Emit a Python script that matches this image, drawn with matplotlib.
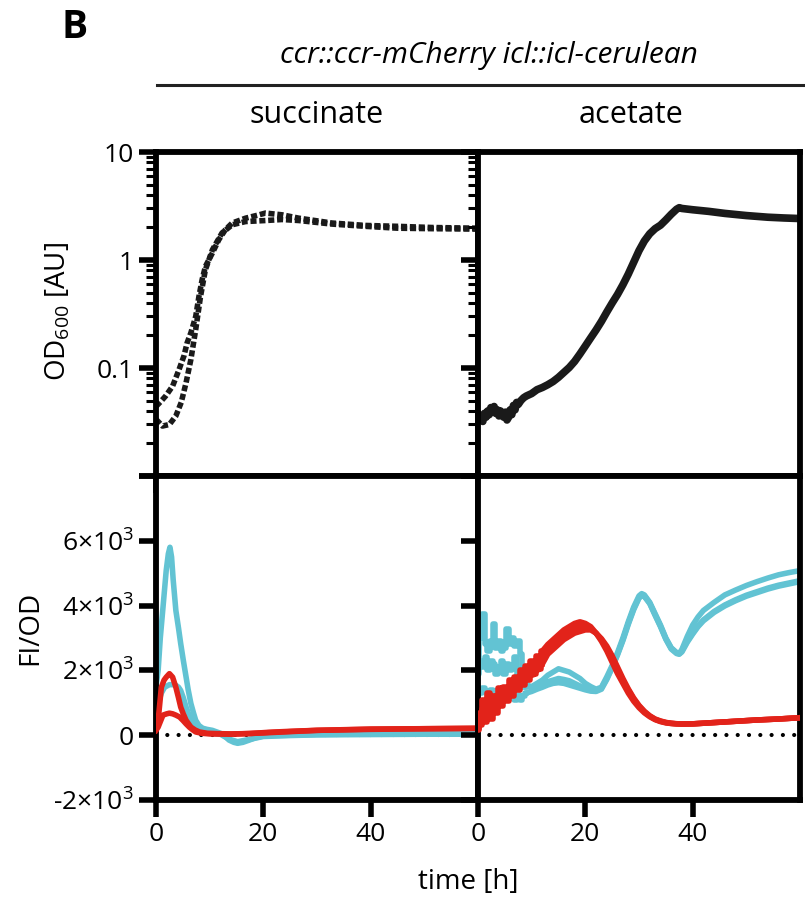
import numpy as np
import matplotlib
matplotlib.use("Agg")
import matplotlib.pyplot as plt
from matplotlib.lines import Line2D
from matplotlib.ticker import LogLocator, NullFormatter

plt.rcParams['font.family'] = ['Open Sans', 'DejaVu Sans']
plt.rcParams['mathtext.default'] = 'regular'

CYAN = "#62c3d3"
RED = "#e2231a"

# ---- OD600, succinate (two replicates, dotted)
suc_od_t1 = [0, 0.9, 1.8, 3.1, 4.3, 5.2, 5.8, 6.5, 7.4, 8.0, 8.6, 9.2, 10.5, 11.7, 12.9, 14.2, 16.7, 19.2, 20.4,
             23.5, 26.6, 32.8, 39, 45, 51.4, 60]
suc_od_v1 = [0.044, 0.049, 0.055, 0.068, 0.097, 0.129, 0.171, 0.212, 0.30, 0.46, 0.66, 0.87, 1.16, 1.54, 1.90,
             2.20, 2.44, 2.62, 2.72, 2.62, 2.44, 2.20, 2.09, 2.05, 2.0, 1.97]
suc_od_t2 = [0, 1.2, 2.5, 3.7, 4.7, 5.6, 6.5, 7.4, 8.3, 9.2, 10.5, 12.3, 14.2, 16.7, 20.4, 23.5, 26.6, 32.8, 39,
             45, 51.4, 60]
suc_od_v2 = [0.0335, 0.029, 0.030, 0.036, 0.048, 0.073, 0.12, 0.227, 0.46, 0.81, 1.24, 1.78, 2.12, 2.27, 2.32,
             2.37, 2.32, 2.15, 2.05, 1.97, 1.95, 1.93]

# ---- OD600, acetate
ace_od_t = [0, 0.3, 0.6, 0.9, 1.2, 1.5, 1.8, 2.1, 2.4, 2.7, 3.0, 3.3, 3.6, 3.9, 4.2, 4.5, 4.8, 5.1, 5.4, 5.7,
            6.0, 6.3, 6.6, 6.9, 7.2, 7.5, 8, 8.5, 9, 10, 11, 12, 13, 14, 15, 16, 17, 18, 19, 20, 21, 22, 23,
            24, 25, 26, 27, 28, 29, 30, 31, 32, 33, 34, 35, 36, 37, 37.5, 38, 40, 43, 46, 50, 54, 57, 60]
ace_od_v = [0.037, 0.033, 0.036, 0.032, 0.038, 0.035, 0.040, 0.037, 0.043, 0.039, 0.044, 0.038, 0.041, 0.036,
            0.040, 0.037, 0.035, 0.039, 0.033, 0.035, 0.041, 0.037, 0.045, 0.041, 0.048, 0.046, 0.050, 0.053,
            0.055, 0.058, 0.063, 0.066, 0.070, 0.075, 0.082, 0.091, 0.101, 0.115, 0.135, 0.160, 0.190, 0.225,
            0.27, 0.33, 0.40, 0.48, 0.59, 0.74, 0.95, 1.22, 1.50, 1.75, 1.95, 2.1, 2.35, 2.65, 2.95, 3.05,
            3.0, 2.92, 2.82, 2.7, 2.58, 2.49, 2.45, 2.42]

# ---- FI/OD, succinate
suc_cy1_t = [0, 0.4, 0.8, 1.3, 1.9, 2.3, 2.6, 2.9, 3.2, 3.7, 4.2, 4.6, 5.1, 5.6, 6.0, 6.5, 7.0, 7.4, 8.0, 8.7,
             9.5, 10.5, 12, 13, 13.6, 14.5, 15.2, 16.2, 17.4, 18.5, 19.9, 22, 25, 30, 35, 40, 45, 50, 55, 60]
suc_cy1_v = [1500, 2000, 3000, 3940, 5080, 5600, 5800, 5500, 4800, 3850, 3300, 2830, 2300, 1800, 1400, 980, 680,
             460, 300, 215, 180, 150, 60, -50, -150, -220, -250, -220, -150, -80, -30, -10, 0, 20, 30, 30, 35,
             40, 40, 40]
suc_cy2_t = [0, 0.4, 1.0, 1.6, 2.5, 3.1, 3.7, 4.2, 4.6, 5.1, 5.6, 6.2, 6.8, 7.4, 8.1, 9, 10, 12, 13.6, 15.2, 17.4,
             20, 25, 30, 40, 50, 60]
suc_cy2_v = [800, 980, 1300, 1480, 1560, 1560, 1540, 1480, 1380, 1150, 870, 600, 370, 250, 150, 100, 80, 30,
             -120, -200, -130, -40, -10, 10, 20, 30, 30]
suc_rd1_t = [0, 0.4, 1.0, 1.5, 1.9, 2.5, 3.1, 3.7, 4.2, 4.6, 5.1, 5.6, 6.5, 7.3, 8.1, 9.5, 11.2, 14, 17.4, 21,
             25, 30, 35, 40, 50, 60]
suc_rd1_v = [200, 460, 1480, 1700, 1790, 1900, 1790, 1480, 1150, 870, 650, 460, 250, 160, 100, 60, 50, 40, 50,
             90, 120, 150, 170, 190, 200, 215]
suc_rd2_t = [0, 0.4, 1.3, 2.0, 2.5, 3.1, 3.7, 4.4, 5.0, 5.6, 6.2, 6.8, 7.4, 8.5, 10, 14, 20, 25, 30, 40, 50, 60]
suc_rd2_v = [150, 250, 620, 660, 680, 660, 620, 560, 460, 350, 250, 170, 100, 60, 40, 30, 70, 110, 150, 180,
             200, 210]

# ---- FI/OD, acetate (noisy start sampled every 0.5 h, then smooth)
ace_early_t = [0, 0.5, 1, 1.5, 2, 2.5, 3, 3.5, 4, 4.5, 5, 5.5, 6, 6.5, 7, 7.5, 8, 8.5, 9, 9.5, 10, 10.5, 11,
               11.5, 12]
ace_late_t = [13, 14, 15, 16, 17, 18, 19, 20, 21, 22, 23, 24, 25, 26, 27, 28, 29, 30, 31, 32, 33, 34, 35, 36,
              37, 38, 40, 42, 45, 48, 52, 56, 60]
ace_rd1_v = [250, 700, 1100, 900, 1300, 1000, 1200, 1100, 1450, 1250, 1500, 1400, 1700, 1550, 1800, 1750,
             2000, 1900, 2150, 2100, 2300, 2250, 2450, 2450, 2600,
             2800, 2950, 3100, 3250, 3350, 3450, 3500, 3450, 3350, 3150, 2900, 2600, 2250, 1900, 1600, 1300,
             1050, 850, 690, 570, 480, 420, 380, 360, 350, 345, 350, 370, 400, 430, 470, 500, 540]
ace_rd2_v = [200, 450, 800, 1000, 700, 950, 900, 1200, 1000, 1300, 1150, 1400, 1350, 1550, 1500, 1700, 1650,
             1850, 1800, 2000, 1950, 2150, 2150, 2300, 2350,
             2650, 2800, 2950, 3100, 3200, 3300, 3350, 3350, 3300, 3150, 2950, 2700, 2400, 2050, 1700, 1400,
             1120, 900, 720, 590, 490, 430, 390, 365, 350, 345, 350, 370, 400, 430, 470, 500, 540]
ace_rd3_v = [150, 300, 600, 400, 800, 500, 900, 700, 1000, 900, 1150, 1050, 1250, 1200, 1400, 1400, 1550, 1550,
             1700, 1700, 1850, 1900, 2000, 2050, 2200,
             2500, 2650, 2800, 2950, 3050, 3150, 3200, 3250, 3250, 3150, 2980, 2750, 2450, 2100, 1750, 1430,
             1150, 920, 740, 600, 500, 440, 395, 370, 355, 345, 350, 370, 400, 430, 470, 500, 540]

cy_early_t = [0, 0.5, 1, 1.5, 2, 2.5, 3, 3.5, 4, 4.5, 5, 5.5, 6, 6.5, 7, 7.5, 8, 8.5, 9]
cy_late_t = [10, 11, 12, 13, 14, 15, 16, 17, 18, 19, 20, 21, 22, 23, 24, 25, 26, 27, 28, 29, 30, 30.5, 31, 32,
             33, 34, 35, 36, 37, 37.5, 38, 39, 40, 41, 42, 44, 46, 48, 50, 52, 54, 56, 58, 60]
ace_cy1_v = [2300, 3000, 3750, 2800, 2600, 2900, 3440, 2700, 2900, 2600, 2700, 3280, 2800, 3000, 2750, 2900,
             2500, 2000, 1500,
             1500, 1600, 1700, 1850, 1950, 2050, 2000, 1950, 1850, 1750, 1600, 1500, 1420, 1480, 1800, 2150,
             2550, 3000, 3500, 3950, 4300, 4370, 4330, 4100, 3750, 3400, 3000, 2700, 2550, 2520, 2650, 3050,
             3400, 3650, 3850, 4100, 4330, 4480, 4620, 4740, 4850, 4950, 5020, 5080]
ace_cy2_v = [1900, 2300, 2100, 2400, 2000, 2300, 2200, 1900, 2100, 2300, 1900, 2200, 2000, 2100, 2400, 1800,
             1500, 1500, 1600,
             1450, 1500, 1550, 1650, 1700, 1750, 1720, 1680, 1600, 1520, 1450, 1400, 1380, 1450, 1750, 2100,
             2500, 2950, 3450, 3900, 4250, 4320, 4300, 4080, 3720, 3370, 2980, 2680, 2540, 2510, 2600, 2900,
             3150, 3380, 3560, 3820, 4020, 4180, 4320, 4430, 4540, 4630, 4700, 4770]
ace_cy3_v = [1400, 1300, 1450, 1350, 1200, 1400, 1300, 1350, 1250, 1300, 1200, 1300, 1150, 1200, 1100, 1250,
             1100, 1200, 1300,
             1350, 1420, 1480, 1550, 1600, 1620, 1600, 1550, 1500, 1450, 1400, 1360, 1350, 1420, 1720, 2080,
             2480, 2920, 3420, 3870, 4230, 4300, 4280, 4060, 3700, 3350, 2960, 2660, 2520, 2500, 2570, 2870,
             3120, 3350, 3530, 3790, 3990, 4150, 4290, 4400, 4510, 4600, 4670, 4740]

fig = plt.figure(figsize=(8.05, 9.01), dpi=100)
gs = fig.add_gridspec(2, 2, left=156 / 805, right=800 / 805, top=1 - 152 / 901, bottom=1 - 800 / 901,
                      hspace=0, wspace=0)
axes = [[fig.add_subplot(gs[r, c]) for c in range(2)] for r in range(2)]

for r in range(2):
    for c in range(2):
        ax = axes[r][c]
        for s in ax.spines.values():
            s.set_linewidth(4.2)
        ax.set_xlim(0, 60)
        ax.set_xticks([0, 20, 40])
        ax.tick_params(which='major', direction='out', length=12, width=4, labelsize=19, pad=4)
        ax.tick_params(which='minor', direction='out', length=7, width=2.2)
        if r == 0:
            ax.set_xticklabels([])
        if c == 1:
            ax.set_yticklabels([])

# top row: OD600 on log scale
for c in range(2):
    ax = axes[0][c]
    ax.set_yscale('log')
    ax.set_ylim(0.01, 10)
    ax.set_yticks([0.01, 0.1, 1, 10])
    ax.yaxis.set_minor_locator(LogLocator(base=10, subs=np.arange(2, 10)))
    ax.yaxis.set_minor_formatter(NullFormatter())
axes[0][0].set_yticklabels(['', '0.1', '1', '10'])
axes[0][1].set_yticklabels([])

dotted = (0, (1.1, 0.5))
axes[0][0].plot(suc_od_t1, suc_od_v1, color='#1a1a1a', lw=4, ls=dotted)
axes[0][0].plot(suc_od_t2, suc_od_v2, color='#1a1a1a', lw=4, ls=dotted)
axes[0][1].plot(ace_od_t, ace_od_v, color='#1a1a1a', lw=5.5, solid_joinstyle='round')

# bottom row: FI/OD
fi_ticks = [-2000, 0, 2000, 4000, 6000, 8000]
fi_labels = ['-2×10$^{3}$', '0', '2×10$^{3}$', '4×10$^{3}$', '6×10$^{3}$', '']
for c in range(2):
    ax = axes[1][c]
    ax.set_ylim(-2000, 8000)
    ax.set_yticks(fi_ticks)
    ax.plot([0, 60], [0, 0], color='black', lw=3, ls=(0, (0.01, 2.7)), dash_capstyle='round', zorder=1)
axes[1][0].set_yticklabels(fi_labels)
axes[1][1].set_yticklabels([])
axes[1][0].set_xticklabels(['0', '20', '40'])
axes[1][1].set_xticklabels(['0', '20', '40'])

ax = axes[1][0]
ax.plot(suc_cy1_t, suc_cy1_v, color=CYAN, lw=4, zorder=2)
ax.plot(suc_cy2_t, suc_cy2_v, color=CYAN, lw=4, zorder=2)
ax.plot(suc_rd2_t, suc_rd2_v, color=RED, lw=4, zorder=3)
ax.plot(suc_rd1_t, suc_rd1_v, color=RED, lw=4, zorder=3)

# acetate: stepped noisy start, smooth afterwards
ax = axes[1][1]
ne = len(cy_early_t)
for v in (ace_cy1_v, ace_cy2_v, ace_cy3_v):
    ax.plot(cy_early_t, v[:ne], color=CYAN, lw=4, drawstyle='steps-mid', zorder=2)
    ax.plot(cy_early_t[-1:] + cy_late_t, v[ne - 1:], color=CYAN, lw=4, zorder=2)
nr = len(ace_early_t)
for v in (ace_rd1_v, ace_rd2_v, ace_rd3_v):
    ax.plot(ace_early_t, v[:nr], color=RED, lw=4, drawstyle='steps-mid', zorder=3)
    ax.plot(ace_early_t[-1:] + ace_late_t, v[nr - 1:], color=RED, lw=4, zorder=3)

# labels and headers
fig.text(58 / 805, 1 - 312 / 901, 'OD$_{600}$ [AU]', rotation=90, ha='center', va='center', fontsize=20)
fig.text(30 / 805, 1 - 628 / 901, 'FI/OD', rotation=90, ha='center', va='center', fontsize=20)
fig.text(468 / 805, 1 - 882 / 901, 'time [h]', ha='center', va='center', fontsize=20)
fig.text(317 / 805, 1 - 115 / 901, 'succinate', ha='center', va='center', fontsize=22)
fig.text(631 / 805, 1 - 115 / 901, 'acetate', ha='center', va='center', fontsize=22)
fig.text(489 / 805, 1 - 56 / 901, 'ccr::ccr-mCherry icl::icl-cerulean', ha='center', va='center',
         fontsize=21.5, style='italic')
fig.text(75 / 805, 1 - 28 / 901, 'B', ha='center', va='center', fontsize=28, weight='bold')
fig.add_artist(Line2D([157 / 805, 805 / 805], [1 - 85 / 901, 1 - 85 / 901], color='#222222', lw=2.2))

fig.savefig('out.png', dpi=100)
